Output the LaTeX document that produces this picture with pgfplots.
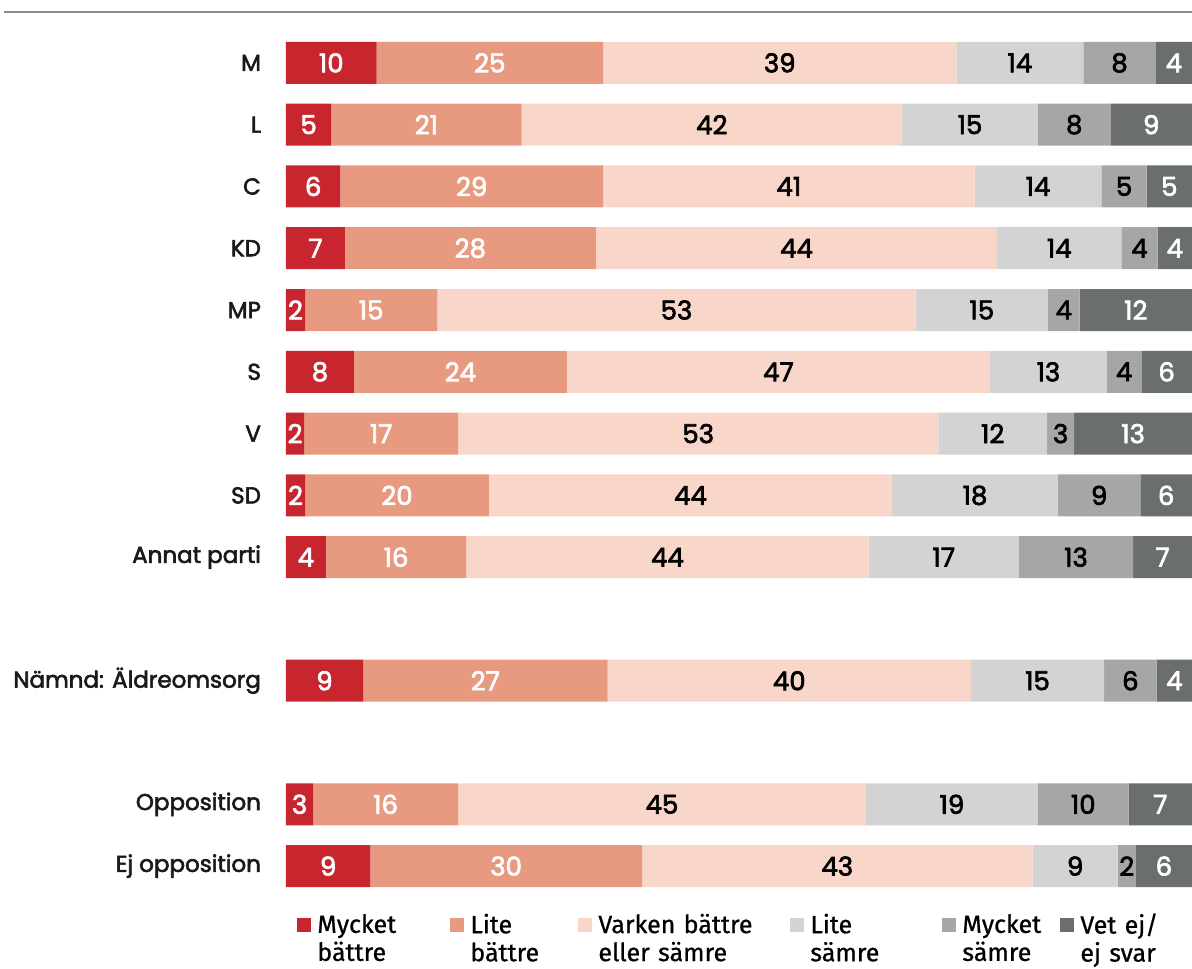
\documentclass[border=0pt]{standalone}
\usepackage{fontspec}
\setmainfont{Poppins}
\newfontfamily\med[FakeBold=2.5]{Poppins}
\newfontfamily\legfont[FakeBold=0.8]{Fira Sans}
\usepackage{pgfplots}
\usepackage{pgfplotstable}
\pgfplotsset{compat=1.18}

\definecolor{c1}{HTML}{C8262F}
\definecolor{c2}{HTML}{E89A80}
\definecolor{c3}{HTML}{F8D6C9}
\definecolor{c4}{HTML}{D3D3D3}
\definecolor{c5}{HTML}{A6A6A9}
\definecolor{c6}{HTML}{6A6E6D}

% bar widths (rows normalised to 100), labels as printed
\pgfplotstableread{
y   v1  l1 v2   l2 v3   l3 v4   l4 v5  l5 v6   l6
0   10  10 25   25 39   39 14   14 8   8  4    4
-1  5   5  21   21 42   42 15   15 8   8  9    9
-2  6   6  29   29 41   41 14   14 5   5  5    5
-3  6.5 7  27.7 28 44.3 44 13.7 14 4   4  3.8  4
-4  2.1 2  14.6 15 52.8 53 14.6 15 3.5 4  12.4 12
-5  7.5 8  23.5 24 46.7 47 12.9 13 3.8 4  5.6  6
-6  2   2  17   17 53   53 12   12 3   3  13   13
-7  2.1 2  20.3 20 44.5 44 18.3 18 9.1 9  5.7  6
-8  4.4 4  15.5 16 44.4 44 16.6 17 12.6 13 6.5 7
-10 8.5 9  27.0 27 40.1 40 14.7 15 5.8 6  3.9  4
-12 3   3  16   16 45   45 19   19 10  10 7    7
-13 9.3 9  30.0 30 43.1 43 9.4  9  2.0 2  6.2  6
}\data

\begin{document}
\begin{tikzpicture}
\useasboundingbox (-143pt,-35.5pt) rectangle (453pt,448.5pt);
\draw[black!45, line width=1pt] (-141pt,442.5pt) -- (453pt,442.5pt);
\begin{axis}[
    at={(0,0)}, anchor=south west,
    scale only axis,
    width=453pt, height=432.5pt,
    xbar stacked,
    bar width=21pt,
    xmin=0, xmax=100,
    ymin=-13.5, ymax=0.5,
    axis line style={draw=none},
    xtick=\empty,
    ytick={-13,-12,-10,-8,-7,-6,-5,-4,-3,-2,-1,0},
    yticklabels={Ej opposition,Opposition,Nämnd: Äldreomsorg,Annat parti,SD,V,S,MP,KD,C,L,M},
    ytick style={draw=none},
    yticklabel style={font=\fontsize{11.5}{13}\selectfont\med, text=black!90, xshift=-9pt},
    point meta=explicit symbolic,
    nodes near coords,
    every node near coord/.append style={anchor=center,
        font=\fontsize{13}{15}\selectfont\med},
    legend style={draw=none, at={(0,0)}, anchor=north west,
        yshift=-5pt, xshift=2.5pt,
        legend columns=6,
        font=\fontsize{12.5}{14}\selectfont\legfont,
        nodes={align=left, inner sep=1pt, inner xsep=3pt},
        /tikz/every even column/.append style={column sep=0pt}},
    legend image code/.code={\fill[#1] (0pt,-3.5pt) rectangle (7pt,3.5pt);},
]
\addplot[fill=c1, draw=none, nodes near coords style={text=white}] table[x=v1, y=y, meta=l1]{\data};
\addlegendentry[text width=63.5pt]{Mycket\\bättre}
\addplot[fill=c2, draw=none, nodes near coords style={text=white}] table[x=v2, y=y, meta=l2]{\data};
\addlegendentry[text width=51pt]{Lite\\bättre}
\addplot[fill=c3, draw=none, nodes near coords style={text=black}] table[x=v3, y=y, meta=l3]{\data};
\addlegendentry[text width=93pt]{Varken bättre\\eller sämre}
\addplot[fill=c4, draw=none, nodes near coords style={text=black}] table[x=v4, y=y, meta=l4]{\data};
\addlegendentry[text width=63pt]{Lite\\sämre}
\addplot[fill=c5, draw=none, nodes near coords style={text=black}] table[x=v5, y=y, meta=l5]{\data};
\addlegendentry[text width=46pt]{Mycket\\sämre}
\addplot[fill=c6, draw=none, nodes near coords style={text=white}] table[x=v6, y=y, meta=l6]{\data};
\addlegendentry[text width=45pt]{Vet ej/\\ej svar}
\end{axis}
\end{tikzpicture}
\end{document}
